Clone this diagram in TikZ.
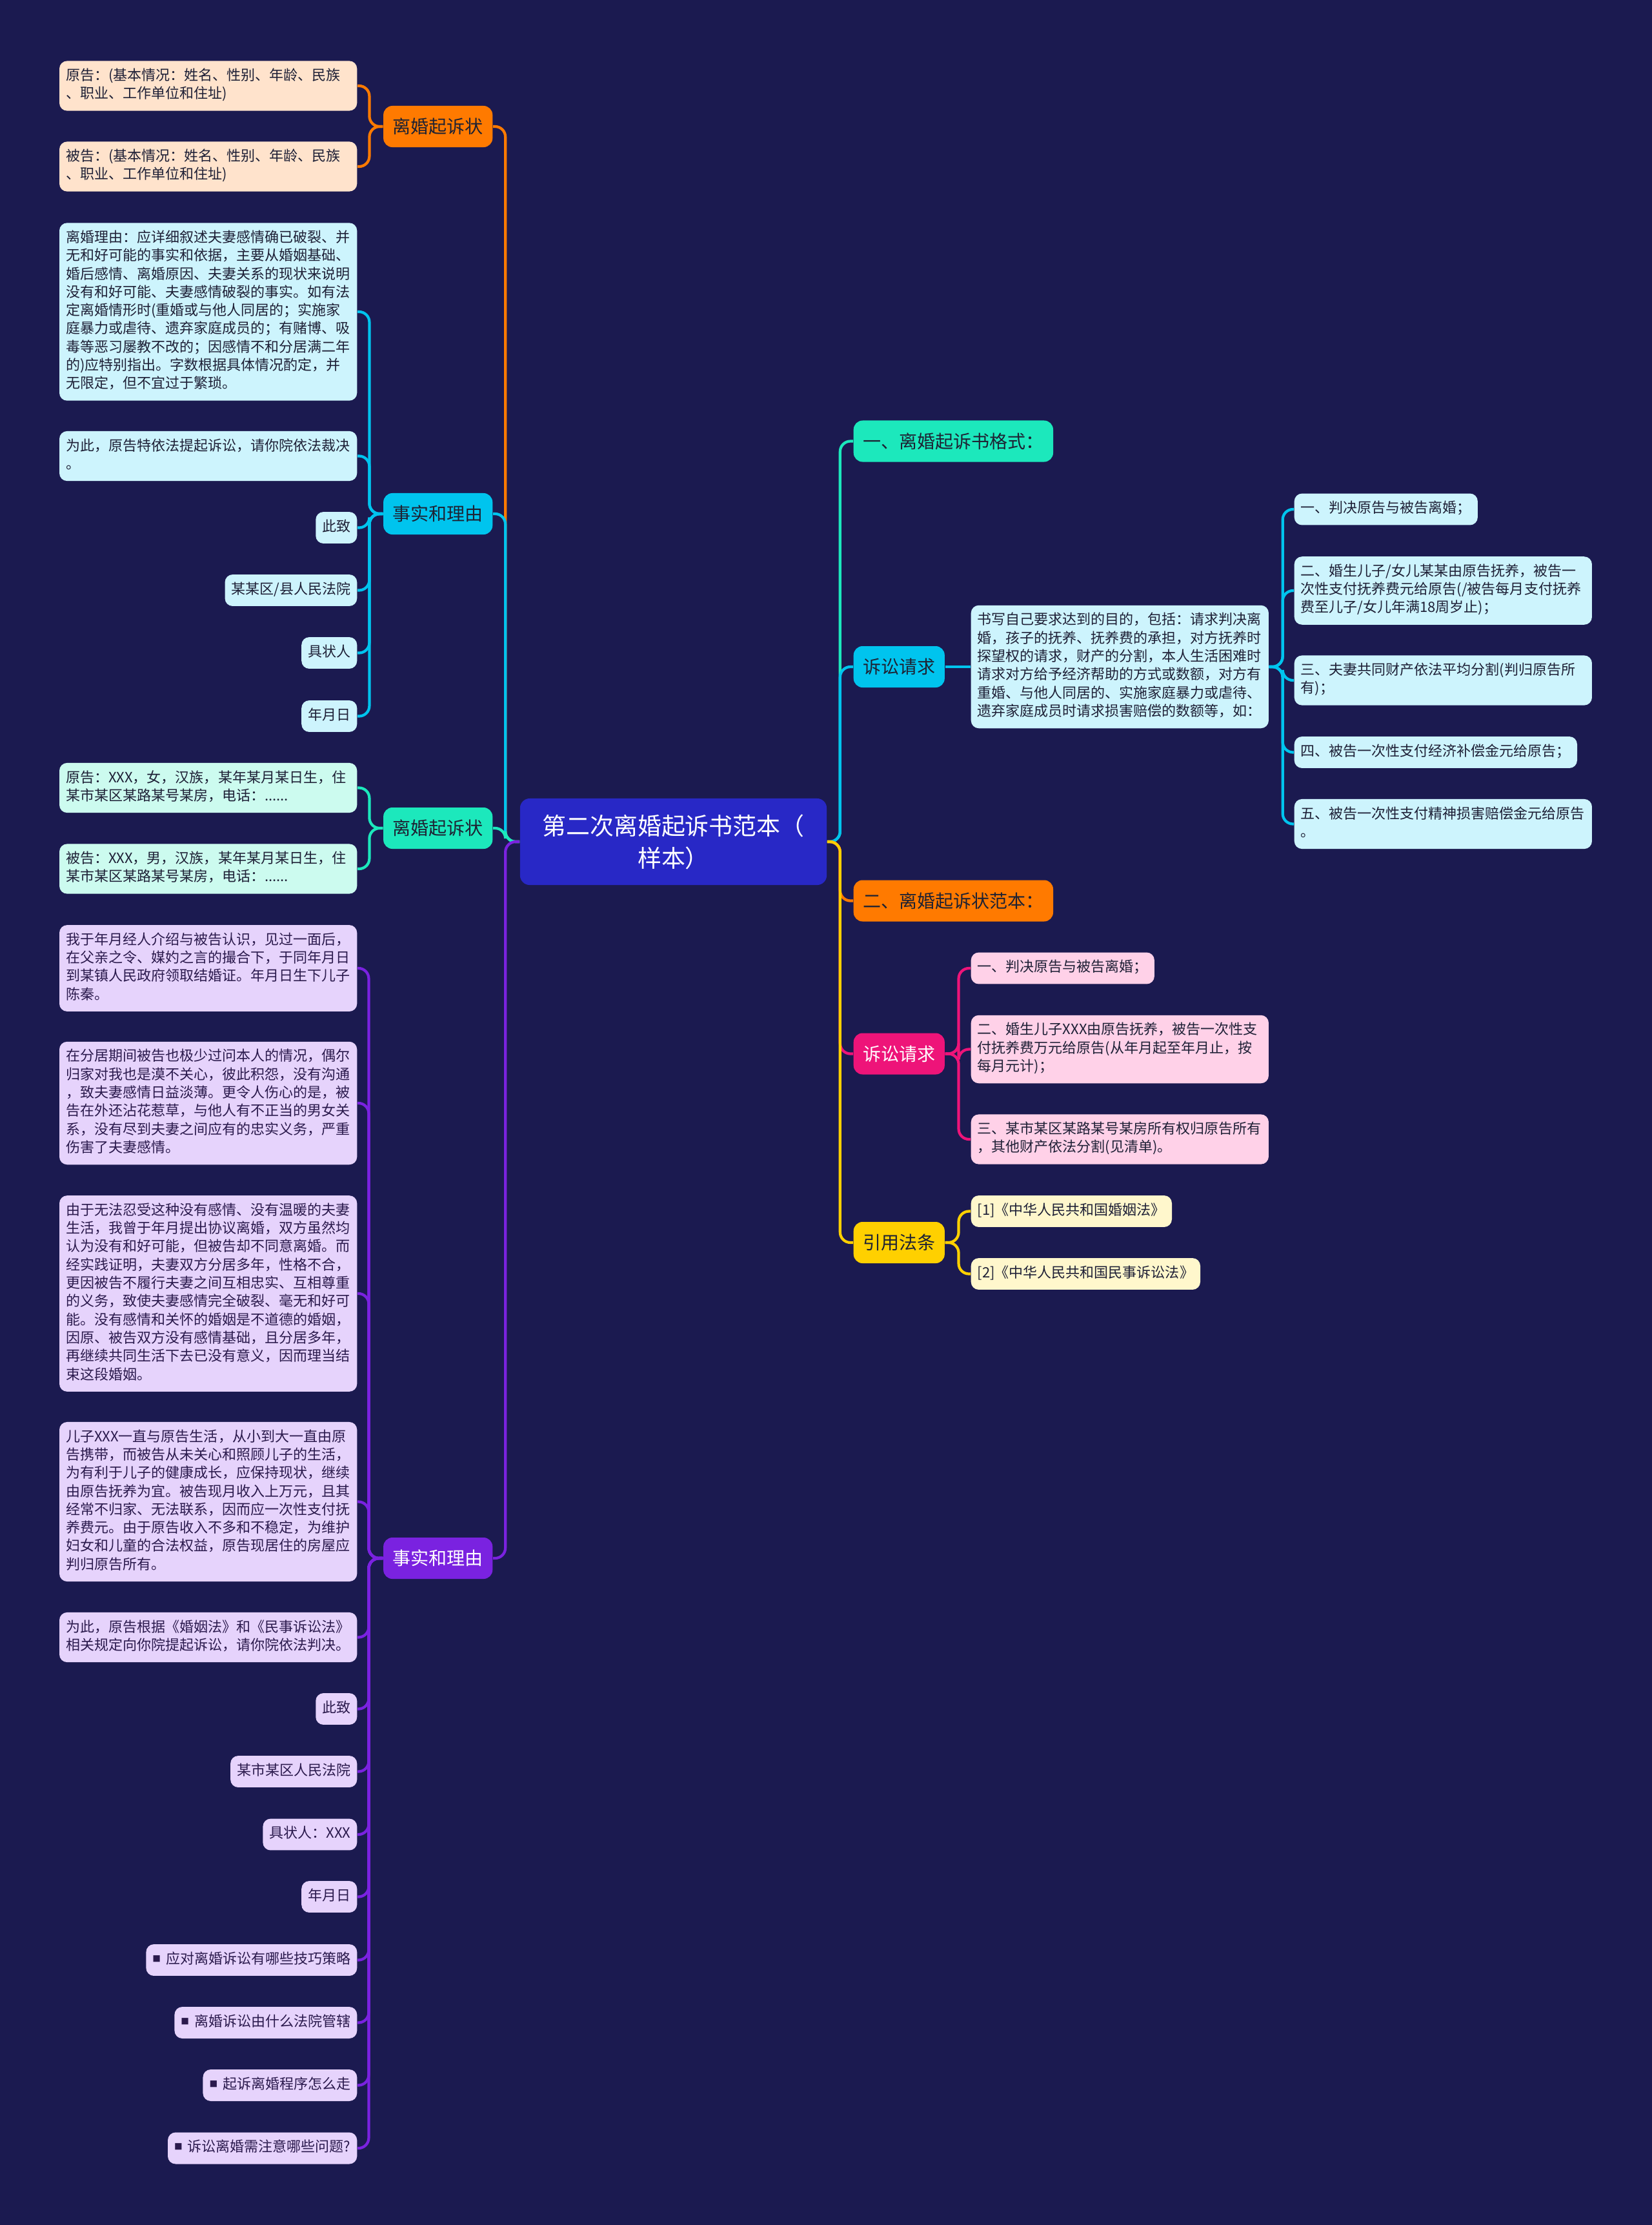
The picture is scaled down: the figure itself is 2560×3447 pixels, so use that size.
\documentclass[tikz,border=0pt]{standalone}
\usepackage{fontspec}
\setmainfont{Noto Sans CJK SC}
\usepackage{tikz}
\usepackage{xcolor}
\usetikzlibrary{positioning}
\setlength{\parindent}{0pt}
\definecolor{bgnavy}{HTML}{1B1A50}
\definecolor{rootblue}{HTML}{2828C6}
\definecolor{brorange}{HTML}{FF7A00}
\definecolor{brcyan}{HTML}{00C4EE}
\definecolor{brteal}{HTML}{1CE8BC}
\definecolor{brpurple}{HTML}{7A22E0}
\definecolor{brpink}{HTML}{EE1479}
\definecolor{bryellow}{HTML}{FFD000}
\definecolor{lforange}{HTML}{FFE3CC}
\definecolor{lfcyan}{HTML}{CDF4FD}
\definecolor{lfteal}{HTML}{CCFBEF}
\definecolor{lfpurple}{HTML}{E6D3FC}
\definecolor{lfpink}{HTML}{FFD1E8}
\definecolor{lfyellow}{HTML}{FFF7CC}
\definecolor{leafink}{HTML}{1E2036}
\definecolor{purpleink}{HTML}{2B1A4D}
\definecolor{twigink}{HTML}{1E2233}
\newcommand\leaffont{\fontsize{6.26}{8.05}\selectfont}
\newcommand\twigfont{\fontsize{7.97}{10}\selectfont}
\newcommand\rootfont{\fontsize{10.5}{14.2}\selectfont}
\newcommand\sqbullet{\raisebox{0.03cm}{\fontsize{3.6}{4}\selectfont ■}\hspace{0.08cm}}
\tikzset{
  rootbox/.style={fill=rootblue,text=white,font=\rootfont,align=center,
                  minimum width=4.75cm,minimum height=1.34cm,rounded corners=1.5mm},
  twig/.style={rounded corners=1.4mm,inner xsep=0.145cm,minimum height=0.64cm,
               font=\twigfont},
  orangetwig/.style={twig,fill=brorange,text=twigink},
  cyantwig/.style={twig,fill=brcyan,text=twigink},
  tealtwig/.style={twig,fill=brteal,text=twigink},
  purpletwig/.style={twig,fill=brpurple,text=white},
  pinktwig/.style={twig,fill=brpink,text=white},
  yellowtwig/.style={twig,fill=bryellow,text=twigink},
  leaf/.style={rounded corners=1.2mm,inner xsep=0.1cm,inner ysep=0.103cm,
               font=\leaffont,text=leafink,
               execute at begin node=\strut,execute at end node=\strut},
  para/.style={text width=4.41cm,align=left},
  orangeleaf/.style={leaf,fill=lforange},
  cyanleaf/.style={leaf,fill=lfcyan},
  tealleaf/.style={leaf,fill=lfteal},
  purpleleaf/.style={leaf,fill=lfpurple,text=purpleink},
  pinkleaf/.style={leaf,fill=lfpink},
  yellowleaf/.style={leaf,fill=lfyellow},
  ln/.style={line width=1.2pt,rounded corners=1.6mm},
  orangeln/.style={ln,draw=brorange},
  cyanln/.style={ln,draw=brcyan},
  tealln/.style={ln,draw=brteal},
  purpleln/.style={ln,draw=brpurple},
  pinkln/.style={ln,draw=brpink},
  yellowln/.style={ln,draw=bryellow}
}
\begin{document}
\begin{tikzpicture}[x=0.01cm,y=-0.01cm]
  \path[use as bounding box] (0,0) rectangle (2560,3447);
  \fill[bgnavy] (0,0) rectangle (2560,3447);

  \node[rootbox] (root) at (1043.5,1304) {第二次离婚起诉书范本（\\样本）};

  % left side
  \node[orangetwig,anchor=east] (head) at (764,196) {离婚起诉状};
  \node[cyantwig,anchor=east] (fact) at (764,796) {事实和理由};
  \node[tealtwig,anchor=east] (plea) at (764,1283) {离婚起诉状};
  \node[purpletwig,anchor=east] (story) at (764,2414) {事实和理由};

  \node[orangeleaf,para,anchor=east] (head1) at (554,133)
    {原告：(基本情况：姓名、性别、年龄、民族\\、职业、工作单位和住址)};
  \node[orangeleaf,para,anchor=east] (head2) at (554,258)
    {被告：(基本情况：姓名、性别、年龄、民族\\、职业、工作单位和住址)};

  \node[cyanleaf,para,anchor=east] (fact1) at (554,483)
    {离婚理由：应详细叙述夫妻感情确已破裂、并\\
     无和好可能的事实和依据，主要从婚姻基础、\\
     婚后感情、离婚原因、夫妻关系的现状来说明\\
     没有和好可能、夫妻感情破裂的事实。如有法\\
     定离婚情形时(重婚或与他人同居的；实施家\\
     庭暴力或虐待、遗弃家庭成员的；有赌博、吸\\
     毒等恶习屡教不改的；因感情不和分居满二年\\
     的)应特别指出。字数根据具体情况酌定，并\\
     无限定，但不宜过于繁琐。};
  \node[cyanleaf,para,anchor=east] (fact2) at (554,706.5)
    {为此，原告特依法提起诉讼，请你院依法裁决\\。};
  \node[cyanleaf,anchor=east] (fact3) at (554,817.5) {此致};
  \node[cyanleaf,anchor=east] (fact4) at (554,914.5) {某某区/县人民法院};
  \node[cyanleaf,anchor=east] (fact5) at (554,1011.5) {具状人};
  \node[cyanleaf,anchor=east] (fact6) at (554,1109.5) {年月日};

  \node[tealleaf,para,anchor=east] (plea1) at (554,1220.5)
    {原告：XXX，女，汉族，某年某月某日生，住\\某市某区某路某号某房，电话：......};
  \node[tealleaf,para,anchor=east] (plea2) at (554,1346)
    {被告：XXX，男，汉族，某年某月某日生，住\\某市某区某路某号某房，电话：......};

  \node[purpleleaf,para,anchor=east] (story1) at (554,1500)
    {我于年月经人介绍与被告认识，见过一面后，\\
     在父亲之令、媒妁之言的撮合下，于同年月日\\
     到某镇人民政府领取结婚证。年月日生下儿子\\
     陈秦。};
  \node[purpleleaf,para,anchor=east] (story2) at (554,1709)
    {在分居期间被告也极少过问本人的情况，偶尔\\
     归家对我也是漠不关心，彼此积怨，没有沟通\\
     ，致夫妻感情日益淡薄。更令人伤心的是，被\\
     告在外还沾花惹草，与他人有不正当的男女关\\
     系，没有尽到夫妻之间应有的忠实义务，严重\\
     伤害了夫妻感情。};
  \node[purpleleaf,para,anchor=east] (story3) at (554,2004)
    {由于无法忍受这种没有感情、没有温暖的夫妻\\
     生活，我曾于年月提出协议离婚，双方虽然均\\
     认为没有和好可能，但被告却不同意离婚。而\\
     经实践证明，夫妻双方分居多年，性格不合，\\
     更因被告不履行夫妻之间互相忠实、互相尊重\\
     的义务，致使夫妻感情完全破裂、毫无和好可\\
     能。没有感情和关怀的婚姻是不道德的婚姻，\\
     因原、被告双方没有感情基础，且分居多年，\\
     再继续共同生活下去已没有意义，因而理当结\\
     束这段婚姻。};
  \node[purpleleaf,para,anchor=east] (story4) at (554,2326.5)
    {儿子XXX一直与原告生活，从小到大一直由原\\
     告携带，而被告从未关心和照顾儿子的生活，\\
     为有利于儿子的健康成长，应保持现状，继续\\
     由原告抚养为宜。被告现月收入上万元，且其\\
     经常不归家、无法联系，因而应一次性支付抚\\
     养费元。由于原告收入不多和不稳定，为维护\\
     妇女和儿童的合法权益，原告现居住的房屋应\\
     判归原告所有。};
  \node[purpleleaf,para,anchor=east] (story5) at (554,2536.5)
    {为此，原告根据《婚姻法》和《民事诉讼法》\\相关规定向你院提起诉讼，请你院依法判决。};
  \node[purpleleaf,anchor=east] (story6) at (554,2647.5) {此致};
  \node[purpleleaf,anchor=east] (story7) at (554,2744.5) {某市某区人民法院};
  \node[purpleleaf,anchor=east] (story8) at (554,2842) {具状人：XXX};
  \node[purpleleaf,anchor=east] (story9) at (554,2938.5) {年月日};
  \node[purpleleaf,anchor=east] (story10) at (554,3036.5) {\sqbullet 应对离婚诉讼有哪些技巧策略};
  \node[purpleleaf,anchor=east] (story11) at (554,3133.5) {\sqbullet 离婚诉讼由什么法院管辖};
  \node[purpleleaf,anchor=east] (story12) at (554,3230.5) {\sqbullet 起诉离婚程序怎么走};
  \node[purpleleaf,anchor=east] (story13) at (554,3328) {\sqbullet 诉讼离婚需注意哪些问题?};

  % right side
  \node[tealtwig,anchor=west] (fmt) at (1322,683.5) {一、离婚起诉书格式：};
  \node[cyantwig,anchor=west] (req) at (1322,1033) {诉讼请求};
  \node[orangetwig,anchor=west] (sample) at (1322,1395.5) {二、离婚起诉状范本：};
  \node[pinktwig,anchor=west] (claim) at (1322,1632.5) {诉讼请求};
  \node[yellowtwig,anchor=west] (law) at (1322,1925) {引用法条};

  \node[cyanleaf,para,anchor=west] (reqtext) at (1504,1033)
    {书写自己要求达到的目的，包括：请求判决离\\
     婚，孩子的抚养、抚养费的承担，对方抚养时\\
     探望权的请求，财产的分割，本人生活困难时\\
     请求对方给予经济帮助的方式或数额，对方有\\
     重婚、与他人同居的、实施家庭暴力或虐待、\\
     遗弃家庭成员时请求损害赔偿的数额等，如：};
  \node[cyanleaf,anchor=west] (req1) at (2005,789) {一、判决原告与被告离婚；};
  \node[cyanleaf,para,anchor=west] (req2) at (2005,915)
    {二、婚生儿子/女儿某某由原告抚养，被告一\\
     次性支付抚养费元给原告(/被告每月支付抚养\\
     费至儿子/女儿年满18周岁止)；};
  \node[cyanleaf,para,anchor=west] (req3) at (2005,1054)
    {三、夫妻共同财产依法平均分割(判归原告所\\有)；};
  \node[cyanleaf,anchor=west] (req4) at (2005,1165.5) {四、被告一次性支付经济补偿金元给原告；};
  \node[cyanleaf,para,anchor=west] (req5) at (2005,1276.5)
    {五、被告一次性支付精神损害赔偿金元给原告\\。};

  \node[pinkleaf,anchor=west] (claim1) at (1504,1500) {一、判决原告与被告离婚；};
  \node[pinkleaf,para,anchor=west] (claim2) at (1504,1625.5)
    {二、婚生儿子XXX由原告抚养，被告一次性支\\
     付抚养费万元给原告(从年月起至年月止，按\\
     每月元计)；};
  \node[pinkleaf,para,anchor=west] (claim3) at (1504,1765)
    {三、某市某区某路某号某房所有权归原告所有\\，其他财产依法分割(见清单)。};

  \node[yellowleaf,anchor=west] (law1) at (1504,1876.5) {[1]《中华人民共和国婚姻法》};
  \node[yellowleaf,anchor=west] (law2) at (1504,1973.5) {[2]《中华人民共和国民事诉讼法》};

  % connectors, left
  \draw[orangeln] (root.west) -- ++(-22,0) |- (head.east);
  \draw[cyanln] (root.west) -- ++(-22,0) |- (fact.east);
  \draw[tealln] (root.west) -- ++(-22,0) |- (plea.east);
  \draw[purpleln] (root.west) -- ++(-22,0) |- (story.east);
  \foreach \n in {1,2} \draw[orangeln] (head.west) -- ++(-21,0) |- (head\n.east);
  \foreach \n in {1,...,6} \draw[cyanln] (fact.west) -- ++(-21,0) |- (fact\n.east);
  \foreach \n in {1,2} \draw[tealln] (plea.west) -- ++(-21,0) |- (plea\n.east);
  \foreach \n in {1,...,13} \draw[purpleln] (story.west) -- ++(-22,0) |- (story\n.east);

  % connectors, right
  \draw[tealln] (root.east) -- ++(20,0) |- (fmt.west);
  \draw[cyanln] (root.east) -- ++(20,0) |- (req.west);
  \draw[orangeln] (root.east) -- ++(20,0) |- (sample.west);
  \draw[pinkln] (root.east) -- ++(20,0) |- (claim.west);
  \draw[yellowln] (root.east) -- ++(20,0) |- (law.west);
  \draw[cyanln] (req.east) -- (reqtext.west);
  \foreach \n in {1,...,5} \draw[cyanln] (reqtext.east) -- ++(21,0) |- (req\n.west);
  \foreach \n in {1,2,3} \draw[pinkln] (claim.east) -- ++(21,0) |- (claim\n.west);
  \foreach \n in {1,2} \draw[yellowln] (law.east) -- ++(21,0) |- (law\n.west);
\end{tikzpicture}
\end{document}
